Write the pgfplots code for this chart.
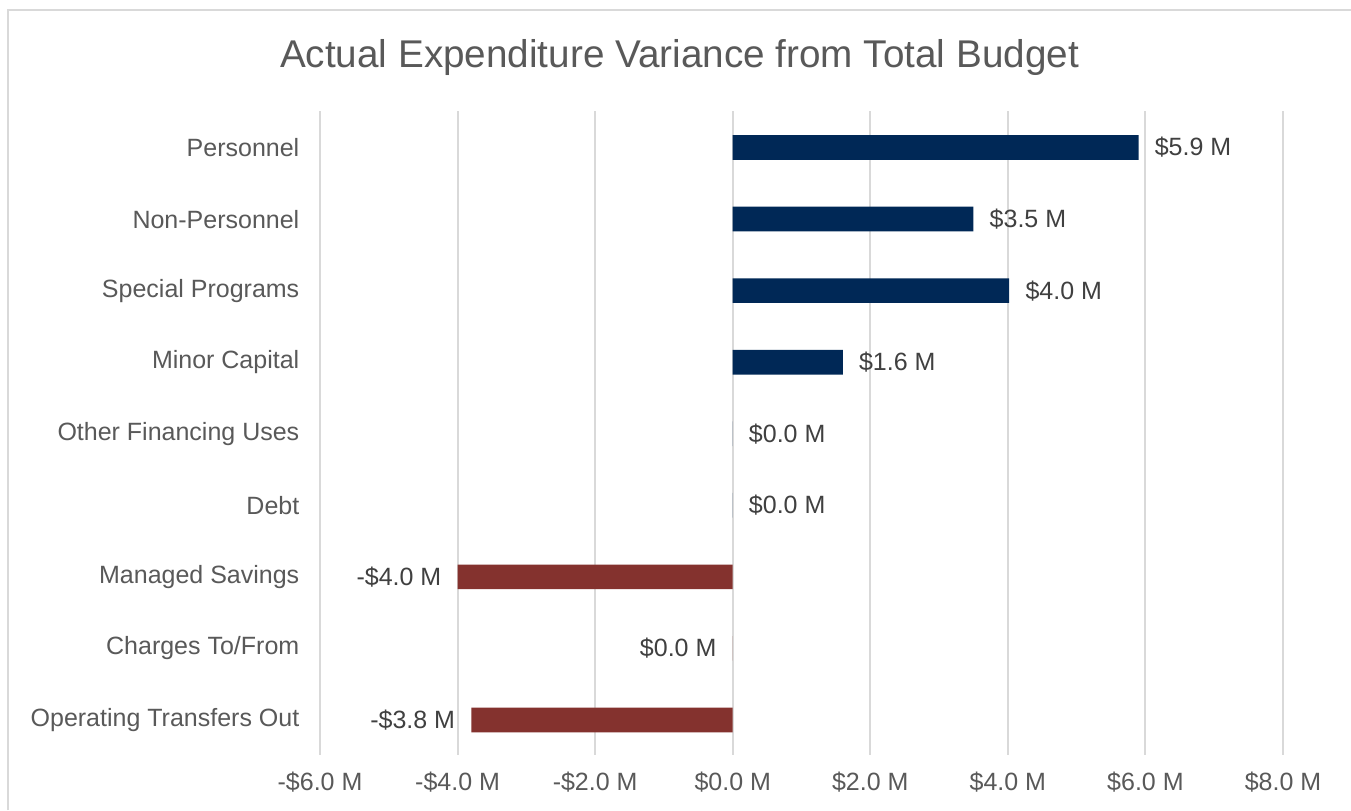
\documentclass[border=0pt]{standalone}
\usepackage{pgfplots}
\pgfplotsset{compat=1.18}
\usepackage{fontspec}
\setmainfont{Liberation Sans}
\definecolor{navy}{RGB}{0,40,86}
\definecolor{brick}{RGB}{132,50,46}
\definecolor{txtgray}{RGB}{89,89,89}
\definecolor{lblgray}{RGB}{64,64,64}
\definecolor{gridgray}{RGB}{217,217,217}
\begin{document}
\begin{tikzpicture}
\useasboundingbox (0,0) rectangle (1013.25pt,607.5pt);
\fill[white] (0,0) rectangle (1013.25pt,607.5pt);
\draw[gridgray, line width=1.5pt] (6pt,0) -- (6pt,600pt) -- (1013.25pt,600pt);
\node[anchor=base, text=txtgray, font=\fontsize{29}{34}\selectfont] at (509.6pt,556.5pt) {Actual Expenditure Variance from Total Budget};
\begin{axis}[
 at={(240pt,41.25pt)}, anchor=south west,
 scale only axis, width=722.25pt, height=483pt,
 xmin=-6, xmax=8, ymin=-0.51, ymax=8.49, y dir=reverse,
 xtick={-6,-4,-2,0,2,4,6,8},
 xticklabels={-\$6.0 M,-\$4.0 M,-\$2.0 M,\$0.0 M,\$2.0 M,\$4.0 M,\$6.0 M,\$8.0 M},
 ytick={0,1,2,3,4,5,6,7,8},
 yticklabels={Personnel,Non-Personnel,Special Programs,Minor Capital,Other Financing Uses,Debt,Managed Savings,Charges To/From,Operating Transfers Out},
 xmajorgrids, ymajorgrids=false, grid style={gridgray, line width=1.5pt},
 axis line style={draw=none}, major tick length=0pt,
 tick label style={text=txtgray, font=\fontsize{18.75}{22}\selectfont},
 yticklabel style={xshift=-12pt},
 xticklabel style={yshift=-9pt},
 xbar, bar width=18.5pt, bar shift=0pt,
 point meta=explicit symbolic,
 nodes near coords,
 every node near coord/.append style={text=lblgray, font=\fontsize{18.75}{22}\selectfont, inner xsep=12pt},
]
\addplot[fill=navy, draw=none, every node near coord/.append style={anchor=west}] coordinates {(5.9,0) [\$5.9 M] (3.5,1) [\$3.5 M] (4.02,2) [\$4.0 M] (1.6,3) [\$1.6 M] (0,4) [\$0.0 M] (0,5) [\$0.0 M]};
\addplot[fill=brick, draw=none, every node near coord/.append style={anchor=east}] coordinates {(-4.0,6) [-\$4.0 M] (-0.001,7) [\$0.0 M] (-3.8,8) [-\$3.8 M]};
\end{axis}
\end{tikzpicture}
\end{document}
